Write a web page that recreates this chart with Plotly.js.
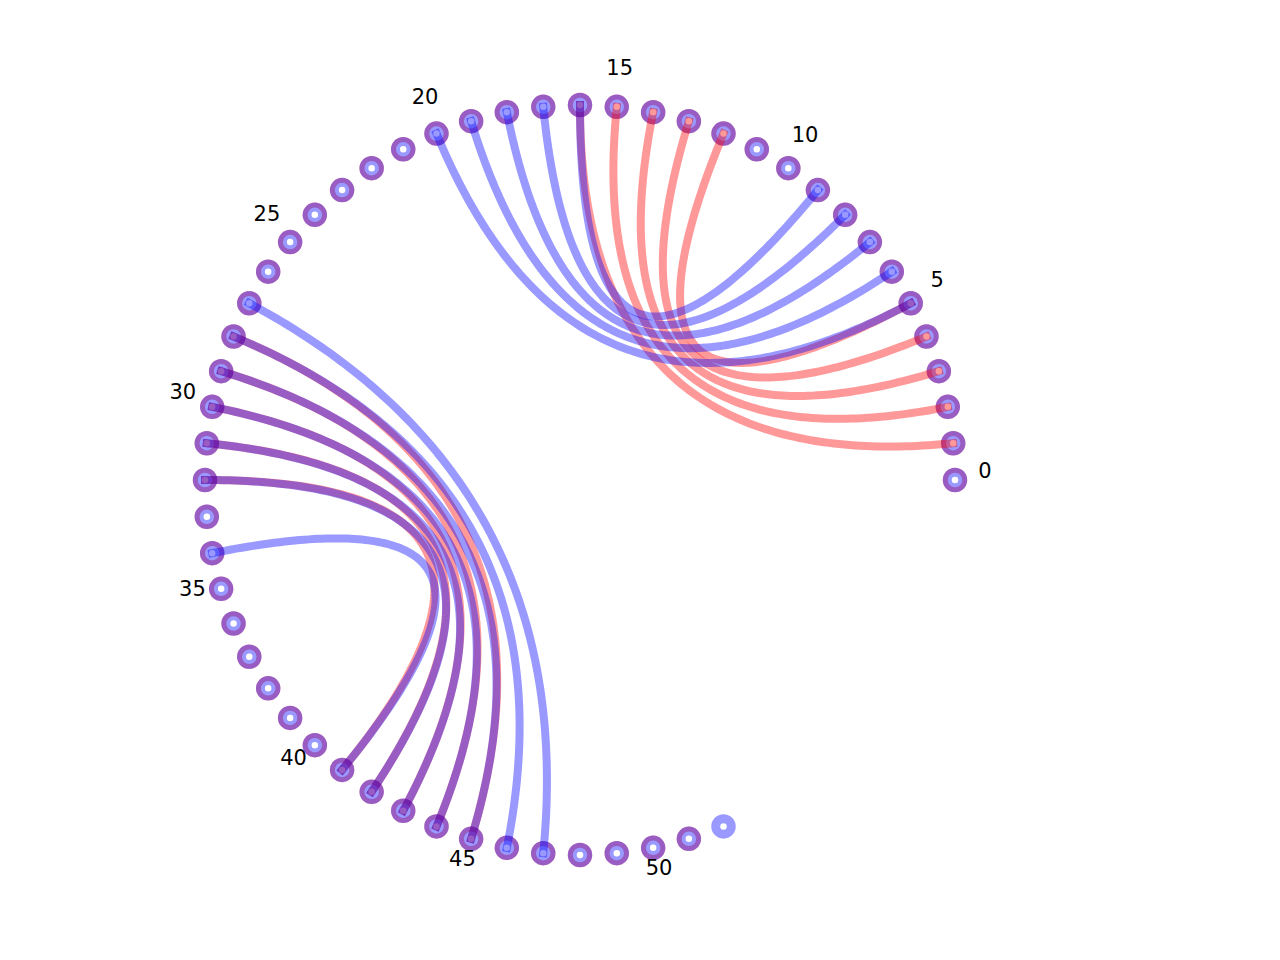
<!DOCTYPE html>
<html>
<head>
<meta charset="utf-8">
<script src="https://cdn.plot.ly/plotly-3.0.1.min.js"></script>
<style>body{margin:0;background:#fff}</style>
</head>
<body>
<div id="chart" style="width:1280px;height:960px"></div>
<script>
// nodes sit on 64 evenly spaced slots, counter-clockwise from the right
const n_slots = 64;
const red_node_count = 52;   // nodes 0..51
const blue_node_count = 53;  // nodes 0..52
const label_nodes = [0, 5, 10, 15, 20, 25, 30, 35, 40, 45, 50];

// pairs of node indices joined by an arc
const red_edges = [
    [1, 16], [2, 15], [3, 14], [4, 13], [5, 12],
    [28, 45], [29, 44], [30, 43], [31, 42], [32, 41]
];
const blue_edges = [
    [5, 20], [6, 19], [7, 18], [8, 17], [9, 16],
    [27, 47], [28, 46], [29, 45], [30, 44], [31, 43], [32, 42], [34, 41]
];

const red = 'rgba(255,0,0,0.4)';
const blue = 'rgba(0,0,255,0.4)';
const px = 1 / 375; // one screen pixel in data units

function node_pos(k, r) {
    let a = 2 * Math.PI * k / n_slots;
    return [r * Math.cos(a), r * Math.sin(a)];
}

function node_trace(count, color, size, width) {
    let xs = [], ys = [];
    for (let k = 0; k < count; k++) {
        let [x, y] = node_pos(k, 1);
        xs.push(x);
        ys.push(y);
    }
    return {
        x: xs, y: ys, mode: 'markers', type: 'scatter', hoverinfo: 'skip',
        marker: {symbol: 'circle-open', size: size, color: color, line: {width: width}}
    };
}

// quadratic bezier with the circle centre as control point,
// stretched a few pixels past each node like a square line cap
function edge_trace(edge, color) {
    let [a, b] = edge;
    let p0 = node_pos(a, 1), p2 = node_pos(b, 1);
    let e0 = node_pos(a, 1 + 4 * px), e2 = node_pos(b, 1 + 4 * px);
    let xs = [e0[0]], ys = [e0[1]];
    let steps = 120;
    for (let i = 0; i <= steps; i++) {
        let t = i / steps;
        xs.push((1 - t) * (1 - t) * p0[0] + t * t * p2[0]);
        ys.push((1 - t) * (1 - t) * p0[1] + t * t * p2[1]);
    }
    xs.push(e2[0]);
    ys.push(e2[1]);
    return {
        x: xs, y: ys, mode: 'lines', type: 'scatter', hoverinfo: 'skip',
        line: {color: color, width: 8, simplify: false}
    };
}

let data = [];
data.push(node_trace(red_node_count, red, 19.5, 5));
data.push(node_trace(blue_node_count, blue, 15.5, 9));
red_edges.forEach(e => data.push(edge_trace(e, red)));
blue_edges.forEach(e => data.push(edge_trace(e, blue)));

let lx = [], ly = [];
label_nodes.forEach(k => {
    let [x, y] = node_pos(k, 1.08);
    lx.push(x);
    ly.push(y + 7 * px);
});
data.push({
    x: lx, y: ly, text: label_nodes.map(String), mode: 'text', type: 'scatter',
    textposition: 'middle center', hoverinfo: 'skip',
    textfont: {family: 'DejaVu Sans', size: 21, color: '#000'}
});

let layout = {
    width: 1280,
    height: 960,
    margin: {l: 0, r: 0, t: 0, b: 0},
    paper_bgcolor: '#fff',
    plot_bgcolor: '#fff',
    showlegend: false,
    xaxis: {range: [-580 * px, 700 * px], visible: false, fixedrange: true},
    yaxis: {range: [-480 * px, 480 * px], visible: false, fixedrange: true}
};

Plotly.newPlot('chart', data, layout, {displayModeBar: false, staticPlot: true});
</script>
</body>
</html>
